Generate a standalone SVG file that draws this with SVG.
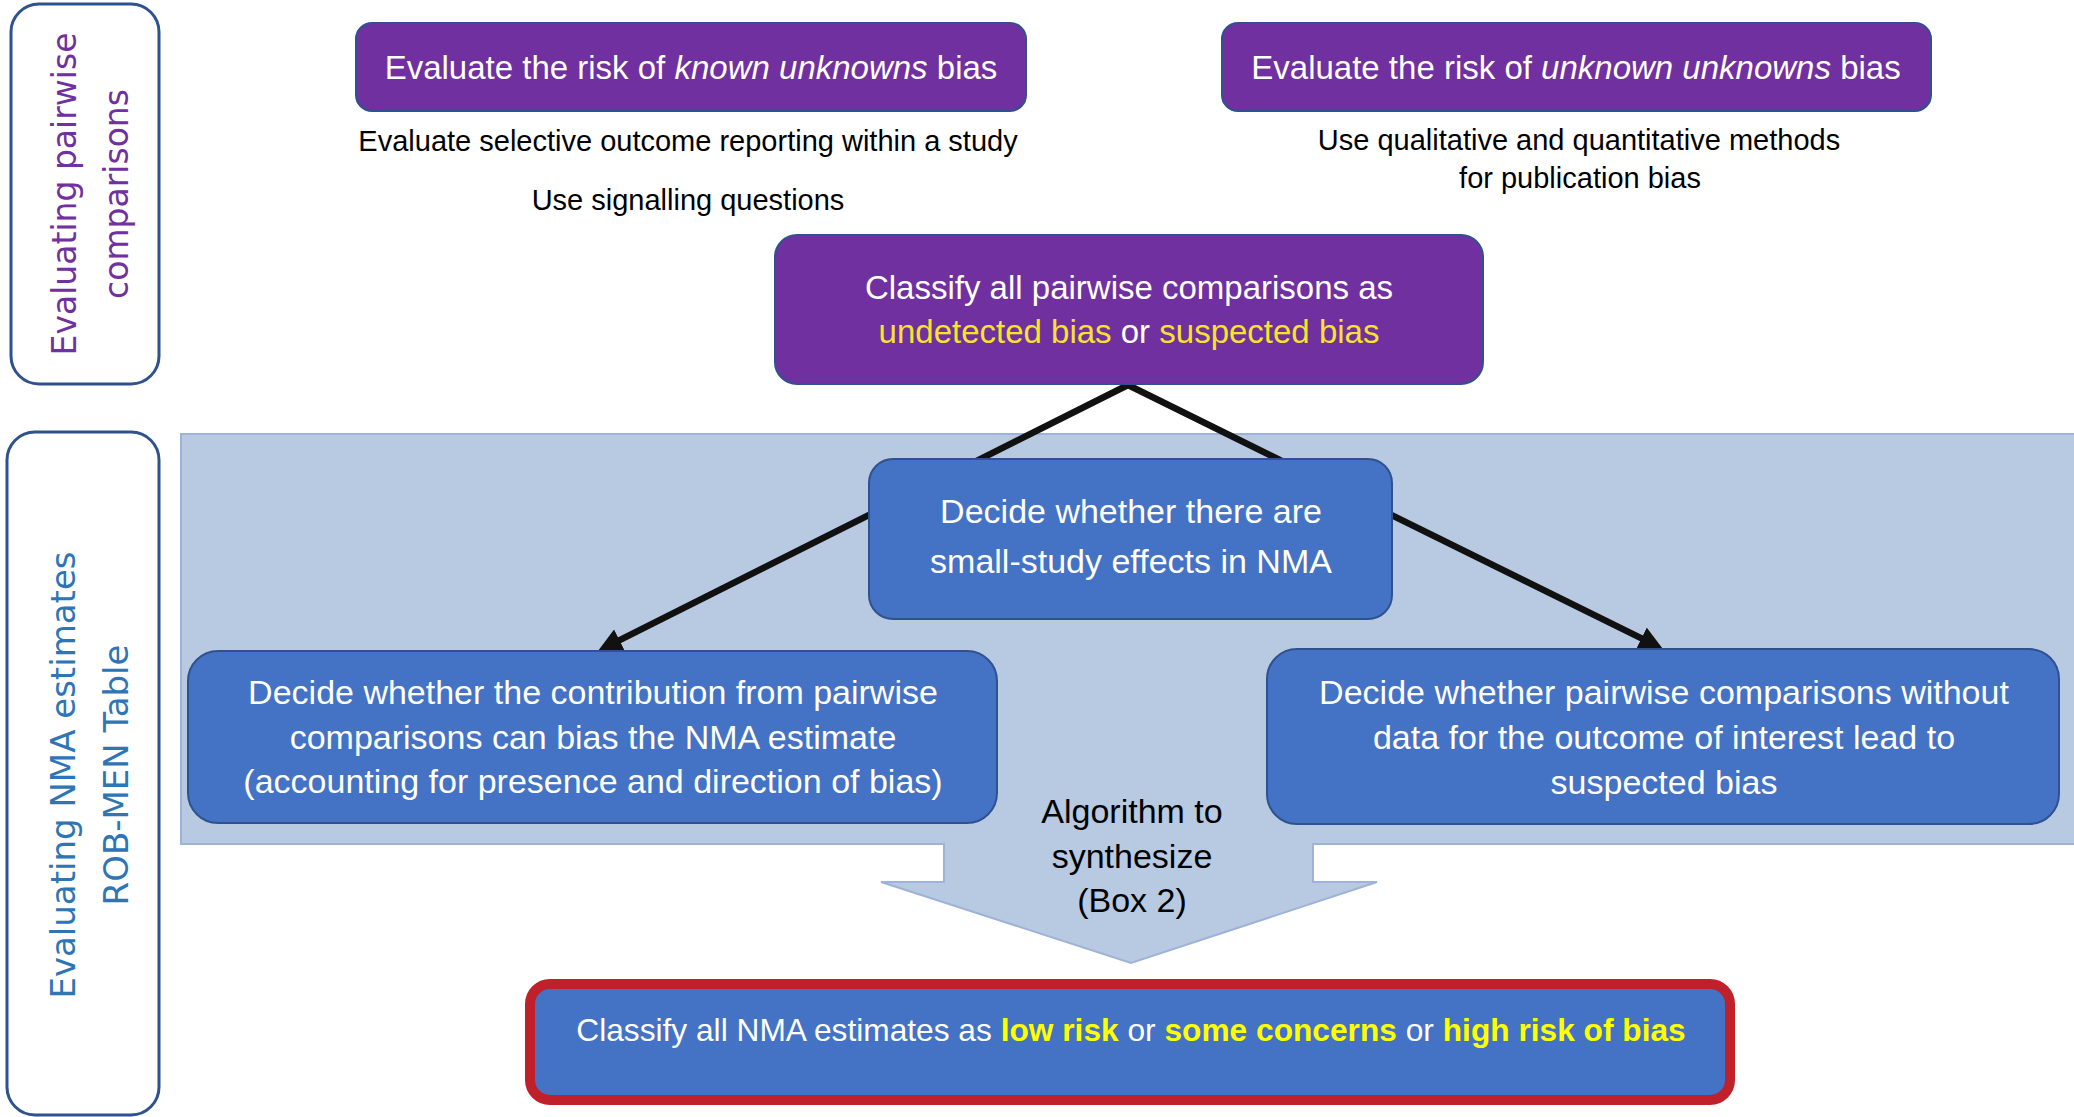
<svg xmlns="http://www.w3.org/2000/svg" width="2074" height="1117" viewBox="0 0 2074 1117">
<defs>
<style>
.side{fill:#ffffff;stroke:#2F528F;stroke-width:3}
.vt{font-family:"DejaVu Sans",sans-serif;font-size:34px;text-anchor:middle}
.purple{fill:#7030A0;stroke:#2F528F;stroke-width:2}
.blue{fill:#4472C4;stroke:#2F528F;stroke-width:2}
.t{font-family:"Liberation Sans",Arial,sans-serif;font-size:34px;text-anchor:middle;fill:#ffffff}
.sub{font-family:"Liberation Sans",Arial,sans-serif;font-size:29px;text-anchor:middle;fill:#000000}
.y1{fill:#F7E32C}
.y2{fill:#FFFF00;font-weight:bold}
.conn{stroke:#111111;stroke-width:6.5;fill:none}
</style>
<marker id="ah" viewBox="0 0 24 24" refX="12" refY="12" markerWidth="24" markerHeight="24" markerUnits="userSpaceOnUse" orient="auto">
<path d="M0,0 L24,12 L0,24 z" fill="#111111"/>
</marker>
</defs>
<rect width="2074" height="1117" fill="#ffffff"/>

<g id="lane-pairwise">
<rect class="side" x="11" y="4" width="148" height="380" rx="28"/>
<text class="vt" style="font-size:33px" fill="#7030A0" transform="translate(76,194) rotate(-90)">Evaluating pairwise</text>
<text class="vt" style="font-size:33px" fill="#7030A0" transform="translate(128,194) rotate(-90)">comparisons</text>
</g>

<g id="lane-nma">
<rect class="side" x="7" y="432" width="152" height="683" rx="28"/>
<text class="vt" fill="#2E75B6" transform="translate(75,775) rotate(-90)">Evaluating NMA estimates</text>
<text class="vt" fill="#2E75B6" transform="translate(128,775) rotate(-90)">ROB-MEN Table</text>
</g>

<g id="band-arrow">
<path d="M181,434 H2080 V844 H1313 V882 H1377 L1131,963 L881,882 H944 V844 H181 Z" fill="#B8C9E2" stroke="#9DB3D7" stroke-width="2"/>
<text class="sub" style="font-size:34px" x="1132" y="823">Algorithm to</text>
<text class="sub" style="font-size:34px" x="1132" y="868">synthesize</text>
<text class="sub" style="font-size:34px" x="1132" y="912">(Box 2)</text>
</g>

<g id="known">
<rect class="purple" x="356" y="23" width="670" height="88" rx="16"/>
<text class="t" style="font-size:33px" x="691" y="79">Evaluate the risk of <tspan font-style="italic">known unknowns</tspan> bias</text>
<text class="sub" x="688" y="151">Evaluate selective outcome reporting within a study</text>
<text class="sub" x="688" y="210">Use signalling questions</text>
</g>

<g id="unknown">
<rect class="purple" x="1222" y="23" width="709" height="88" rx="16"/>
<text class="t" style="font-size:33px" x="1576" y="79">Evaluate the risk of <tspan font-style="italic">unknown unknowns</tspan> bias</text>
<text class="sub" x="1579" y="150">Use qualitative and quantitative methods</text>
<text class="sub" x="1580" y="188">for publication bias</text>
</g>

<g id="connectors">
<line class="conn" x1="1128" y1="385" x2="608.7" y2="645.6" marker-end="url(#ah)"/>
<line class="conn" x1="1128" y1="385" x2="1652.2" y2="643.7" marker-end="url(#ah)"/>
</g>

<g id="classify-pairwise">
<rect class="purple" x="775" y="235" width="708" height="149" rx="22"/>
<text class="t" style="font-size:33px" x="1129" y="299">Classify all pairwise comparisons as</text>
<text class="t" style="font-size:33px" x="1129" y="343"><tspan class="y1">undetected bias</tspan> or <tspan class="y1">suspected bias</tspan></text>
</g>

<g id="small-study">
<rect class="blue" x="869" y="459" width="523" height="160" rx="24"/>
<text class="t" x="1131" y="523">Decide whether there are</text>
<text class="t" x="1131" y="573">small-study effects in NMA</text>
</g>

<g id="contribution">
<rect class="blue" x="188" y="651" width="809" height="172" rx="30"/>
<text class="t" x="593" y="704">Decide whether the contribution from pairwise</text>
<text class="t" x="593" y="749">comparisons can bias the NMA estimate</text>
<text class="t" x="593" y="793">(accounting for presence and direction of bias)</text>
</g>

<g id="without-data">
<rect class="blue" x="1267" y="649" width="792" height="175" rx="30"/>
<text class="t" x="1664" y="704">Decide whether pairwise comparisons without</text>
<text class="t" x="1664" y="749">data for the outcome of interest lead to</text>
<text class="t" x="1664" y="794">suspected bias</text>
</g>

<g id="classify-nma">
<rect x="530" y="984" width="1200" height="116" rx="20" fill="#4472C4" stroke="#C0202A" stroke-width="10"/>
<text class="t" style="font-size:31.7px" x="1131" y="1041">Classify all NMA estimates as <tspan class="y2">low risk</tspan> or <tspan class="y2">some concerns</tspan> or <tspan class="y2">high risk of bias</tspan></text>
</g>
</svg>
